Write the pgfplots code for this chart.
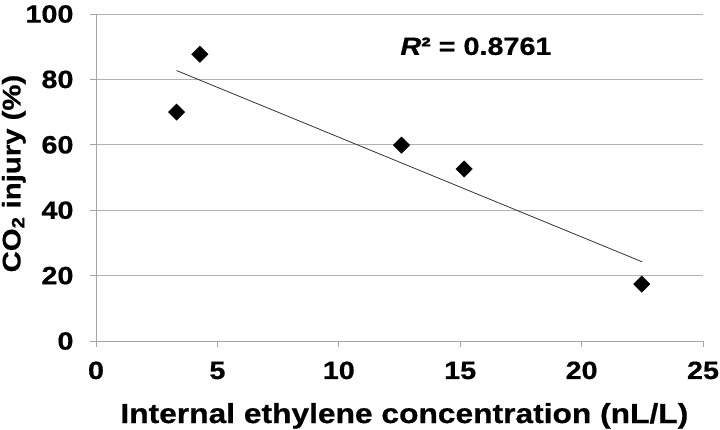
\documentclass[border=0pt]{standalone}
\usepackage{pgfplots}
\pgfplotsset{compat=1.18}
\usepackage{fontspec}
\setmainfont{Liberation Sans}
\newfontfamily\blackfont{Liberation Sans}[FakeStretch=1.15, FakeBold=0.6]
\begin{document}
\begin{tikzpicture}
\useasboundingbox (-96pt,-89pt) rectangle (624pt,341pt);
\begin{axis}[
  at={(0,0)}, anchor=south west,
  scale only axis, width=607pt, height=327pt,
  xmin=0, xmax=25, ymin=0, ymax=100,
  xtick={0,5,10,15,20,25}, ytick={0,20,40,60,80,100},
  axis x line=bottom, axis y line=left,
  axis line style={-, draw=black!35, line width=0.9pt},
  tick align=outside, major tick length=6pt,
  tick style={draw=black!35, line width=0.9pt},
  ymajorgrids, grid style={draw=black!30, line width=0.9pt},
  /pgf/number format/assume math mode=true,
  ticklabel style={font=\fontsize{25}{25}\selectfont\blackfont\bfseries},
  xticklabel style={anchor=base, yshift=-32pt},
  yticklabel style={anchor=east, xshift=-13pt},
  xlabel={Internal ethylene concentration (nL/L)},
  ylabel={CO\textsubscript{2} injury (\%)},
  xlabel style={font=\fontsize{27.6}{27.6}\selectfont\blackfont\bfseries, at={(axis description cs:0.508,-0.2508)}, anchor=base},
  ylabel style={font=\fontsize{25.5}{25.5}\selectfont\blackfont\bfseries, at={(axis description cs:-0.1245,0.512)}, anchor=base},
  clip=false
]
\addplot[only marks, mark=square*, mark size=5.8pt, mark options={rotate=45, fill=black, draw=black}]
  coordinates {(3.32,70.0) (4.28,87.7) (12.58,59.9) (15.16,52.6) (22.48,17.4)};
\addplot[black!80, line width=0.8pt] coordinates {(3.32,82.7) (22.5,24.2)};
\node[font=\fontsize{25}{25}\selectfont\blackfont\bfseries, anchor=base] at (axis cs:15.65,87.5) {\textit{R}² = 0.8761};
\end{axis}
\end{tikzpicture}
\end{document}
